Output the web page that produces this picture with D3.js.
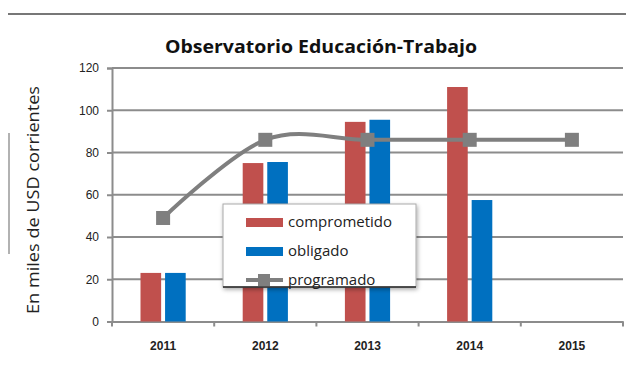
<!DOCTYPE html>
<html>
<head>
<meta charset="utf-8">
<script src="https://cdn.jsdelivr.net/npm/d3@7"></script>
<style>
  html, body { margin: 0; padding: 0; background: #fff; }
  svg { display: block; }
</style>
</head>
<body>
<svg id="chart" width="626" height="367"></svg>
<script>
// Budget execution by year (thousands of current USD)
const years = ["2011", "2012", "2013", "2014", "2015"];
const comprometido = [23, 75, 94.5, 111, null];
const obligado = [23, 75.5, 95.5, 57.5, null];
const programado = [49, 86, 86, 86, 86];
const yTicks = [0, 20, 40, 60, 80, 100, 120];
const seriesNames = ["comprometido", "obligado", "programado"];
const colors = { comprometido: "#C0504D", obligado: "#0070C0", programado: "#7F7F7F" };

const svg = d3.select("#chart");
const plot = { left: 112, right: 623, top: 68, bottom: 321.5 };

const x0 = d3.scaleBand().domain(years).range([plot.left, plot.right]).paddingInner(0).paddingOuter(0);
const x1 = d3.scaleBand().domain(["comprometido", "obligado"])
  .range([0, x0.bandwidth()]).paddingInner(0.16).paddingOuter(1.16);
const y = d3.scaleLinear().domain([0, 120]).range([plot.bottom, plot.top]);

// page border lines around the figure
svg.append("line").attr("x1", 8).attr("x2", 626).attr("y1", 14).attr("y2", 14)
  .attr("stroke", "#777").attr("stroke-width", 2);
svg.append("line").attr("x1", 9).attr("x2", 9).attr("y1", 133).attr("y2", 254)
  .attr("stroke", "#999").attr("stroke-width", 1.5);

// title
svg.append("text").attr("x", 321).attr("y", 53).attr("text-anchor", "middle")
  .attr("font-family", "'Open Sans', sans-serif").attr("font-weight", "bold")
  .attr("font-size", 18).attr("fill", "#111")
  .attr("textLength", 312).attr("lengthAdjust", "spacingAndGlyphs")
  .text("Observatorio Educación-Trabajo");

// horizontal gridlines
svg.append("g").selectAll("line").data(yTicks.filter(d => d > 0)).join("line")
  .attr("x1", plot.left).attr("x2", plot.right)
  .attr("y1", d => y(d)).attr("y2", d => y(d))
  .attr("stroke", "#8c8c8c").attr("stroke-width", 2);

// y axis
const yAxis = svg.append("g").attr("transform", `translate(${plot.left},0)`)
  .call(d3.axisLeft(y).tickValues(yTicks).tickSize(5).tickPadding(8));
yAxis.select(".domain").attr("stroke", "#8c8c8c").attr("stroke-width", 2);
yAxis.selectAll(".tick line").attr("stroke", "#8c8c8c").attr("stroke-width", 2);
yAxis.selectAll("text").attr("font-family", "'Liberation Sans', Arial, sans-serif")
  .attr("font-size", 12).attr("fill", "#222");

// x axis
const xAxis = svg.append("g").attr("transform", `translate(0,${plot.bottom})`)
  .call(d3.axisBottom(x0).tickSize(0).tickPadding(20));
xAxis.select(".domain").attr("stroke", "#8c8c8c").attr("stroke-width", 2);
xAxis.selectAll("text").attr("font-family", "'Liberation Sans', Arial, sans-serif")
  .attr("font-weight", "bold").attr("font-size", 12).attr("fill", "#222");
// category boundary ticks
svg.append("g").selectAll("line").data(years.concat(["end"])).join("line")
  .attr("x1", (d, i) => plot.left + i * x0.step()).attr("x2", (d, i) => plot.left + i * x0.step())
  .attr("y1", plot.bottom).attr("y2", plot.bottom + 5)
  .attr("stroke", "#8c8c8c").attr("stroke-width", 2);

// y axis title
svg.append("text")
  .attr("transform", "translate(39,200) rotate(-90)")
  .attr("text-anchor", "middle")
  .attr("font-family", "'Open Sans', sans-serif").attr("font-size", 16).attr("fill", "#222")
  .attr("textLength", 228).attr("lengthAdjust", "spacingAndGlyphs")
  .text("En miles de USD corrientes");

// bars
const barData = [];
years.forEach((yr, i) => {
  barData.push({ year: yr, key: "comprometido", value: comprometido[i] });
  barData.push({ year: yr, key: "obligado", value: obligado[i] });
});
svg.append("g").selectAll("rect").data(barData.filter(d => d.value != null)).join("rect")
  .attr("x", d => x0(d.year) + x1(d.key))
  .attr("width", x1.bandwidth())
  .attr("y", d => y(d.value))
  .attr("height", d => y(0) - y(d.value))
  .attr("fill", d => colors[d.key]);

// planned line, smoothed
const cx = d => x0(d) + x0.bandwidth() / 2;
const line = d3.line().x((d, i) => cx(years[i])).y(d => y(d)).curve(d3.curveCardinal.tension(0));
svg.append("path").datum(programado).attr("d", line)
  .attr("fill", "none").attr("stroke", colors.programado).attr("stroke-width", 4);
svg.append("g").selectAll("rect").data(programado).join("rect")
  .attr("x", (d, i) => cx(years[i]) - 7).attr("y", d => y(d) - 7)
  .attr("width", 14).attr("height", 14).attr("fill", colors.programado);

// legend
const defs = svg.append("defs");
const f = defs.append("filter").attr("id", "shadow").attr("x", "-10%").attr("y", "-10%")
  .attr("width", "130%").attr("height", "140%");
f.append("feDropShadow").attr("dx", 1).attr("dy", 2).attr("stdDeviation", 2)
  .attr("flood-color", "#000").attr("flood-opacity", 0.35);

const lg = svg.append("g").attr("transform", "translate(223,204)");
lg.append("rect").attr("width", 193).attr("height", 83).attr("fill", "#fff")
  .attr("stroke", "#aaa").attr("stroke-width", 1).attr("filter", "url(#shadow)");
lg.append("line").attr("x1", 0).attr("x2", 193).attr("y1", 83).attr("y2", 83)
  .attr("stroke", "#222").attr("stroke-width", 1.5);

const rows = lg.selectAll("g.item").data(seriesNames).join("g")
  .attr("class", "item").attr("transform", (d, i) => `translate(0,${18 + i * 29})`);
rows.filter(d => d !== "programado").append("rect")
  .attr("x", 23).attr("y", -4).attr("width", 37).attr("height", 9)
  .attr("fill", d => colors[d]);
rows.filter(d => d === "programado").append("line")
  .attr("x1", 23).attr("x2", 60).attr("y1", 0).attr("y2", 0)
  .attr("stroke", colors.programado).attr("stroke-width", 4);
rows.filter(d => d === "programado").append("rect")
  .attr("x", 35).attr("y", -6).attr("width", 12).attr("height", 12).attr("fill", colors.programado);
rows.append("text").attr("x", 65).attr("y", 5)
  .attr("font-family", "'Open Sans', sans-serif").attr("font-size", 15).attr("fill", "#222")
  .text(d => d);
</script>
</body>
</html>
